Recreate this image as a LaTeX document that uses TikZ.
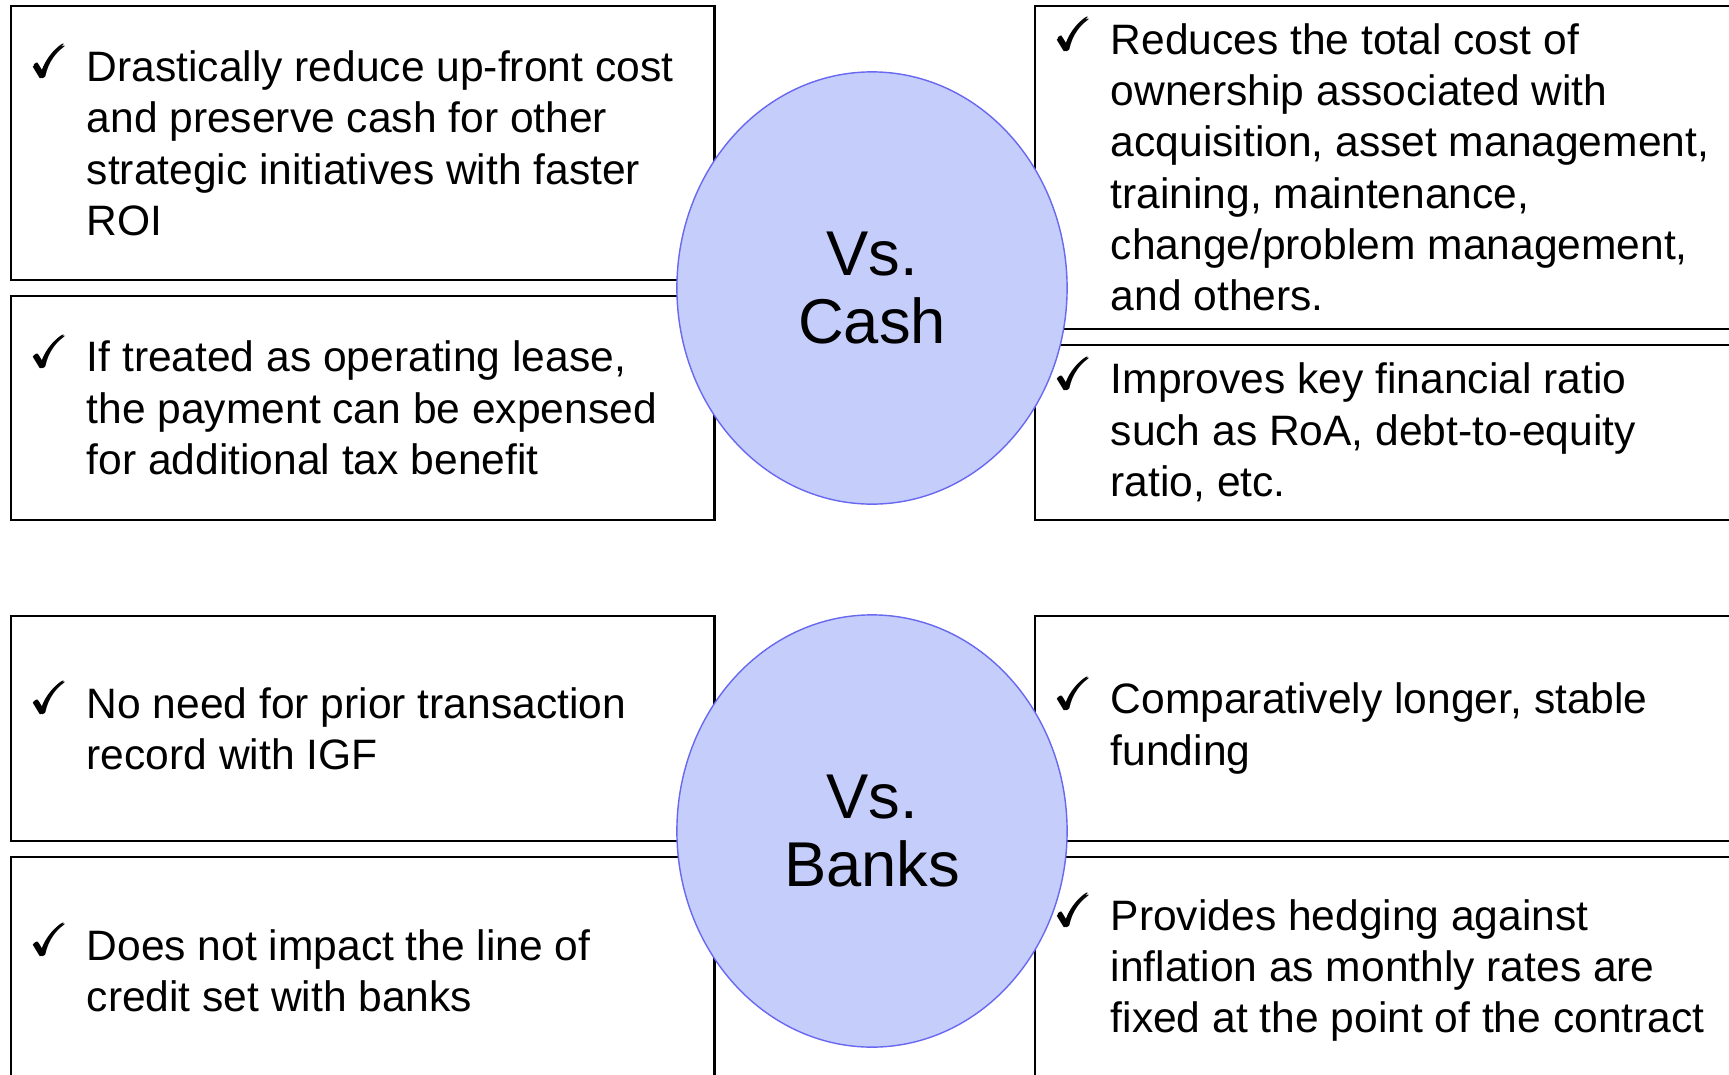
\documentclass[tikz,border=0pt]{standalone}
\usepackage{fontspec}
\setmainfont{Liberation Sans}
\usepackage{amsmath,amssymb}
\usetikzlibrary{shapes.geometric}

\definecolor{vsfill}{HTML}{C5CDFB}
\definecolor{vsline}{HTML}{6868F0}

\newcommand{\tick}{\llap{\makebox[0.55cm][l]{\smash{\raisebox{1.2pt}{\fontsize{12.8}{12.8}\selectfont$\pmb{\checkmark}$}}}}}

\tikzset{
 box/.style={draw, line width=0.6pt, minimum width=7.03cm, anchor=north west, inner sep=0pt},
 rbox/.style={box, minimum width=7.4cm},
 vs/.style={ellipse, draw=vsline, fill=vsfill, line width=0.4pt, minimum width=3.9cm, minimum height=4.32cm, inner sep=0pt, align=center, font=\fontsize{18}{19.6}\selectfont},
 txt/.style={anchor=west, align=left, inner sep=0pt, font=\fontsize{12.1}{14.6}\selectfont}
}

\begin{document}
\begin{tikzpicture}[x=0.01cm, y=-0.01cm]
 \useasboundingbox (0,0) rectangle (1729,1075);
 \clip (0,0) rectangle (1729,1075);

 % boxes, vs cash
 \node[box, minimum height=2.74cm] (lcash1) at (10,5) {};
 \node[box, minimum height=2.24cm] (lcash2) at (10,295) {};
 \node[rbox, minimum height=3.225cm] (rcash1) at (1034,5) {};
 \node[rbox, minimum height=1.75cm] (rcash2) at (1034,344) {};
 % boxes, vs banks
 \node[box, minimum height=2.25cm] (lbank1) at (10,615) {};
 \node[box, minimum height=2.27cm] (lbank2) at (10,856) {};
 \node[rbox, minimum height=2.25cm] (rbank1) at (1034,615) {};
 \node[rbox, minimum height=2.27cm] (rbank2) at (1034,856) {};

 % the two bubbles
 \node[vs] (vscash) at (872,288) {Vs.\\Cash};
 \node[vs] (vsbank) at (872,831) {Vs.\\Banks};

 % texts
 \node[txt] (tlcash1) at ([xshift=0.76cm]lcash1.west) {\tick Drastically reduce up-front cost\\and preserve cash for other\\strategic initiatives with faster\\ROI};
 \node[txt] (tlcash2) at ([xshift=0.76cm]lcash2.west) {\tick If treated as operating lease,\\the payment can be expensed\\for additional tax benefit};
 \node[txt] (trcash1) at ([xshift=0.76cm]rcash1.west) {\tick Reduces the total cost of\\ownership associated with\\acquisition, asset management,\\training, maintenance,\\change/problem management,\\and others.};
 \node[txt] (trcash2) at ([xshift=0.76cm]rcash2.west) {\tick Improves key financial ratio\\such as RoA, debt-to-equity\\ratio, etc.};
 \node[txt] (tlbank1) at ([xshift=0.76cm]lbank1.west) {\tick No need for prior transaction\\record with IGF};
 \node[txt] (tlbank2) at ([xshift=0.76cm]lbank2.west) {\tick Does not impact the line of\\credit set with banks};
 \node[txt] (trbank1) at ([xshift=0.76cm]rbank1.west) {\tick Comparatively longer, stable\\funding};
 \node[txt] (trbank2) at ([xshift=0.76cm]rbank2.west) {\tick Provides hedging against\\inflation as monthly rates are\\fixed at the point of the contract};
\end{tikzpicture}
\end{document}
